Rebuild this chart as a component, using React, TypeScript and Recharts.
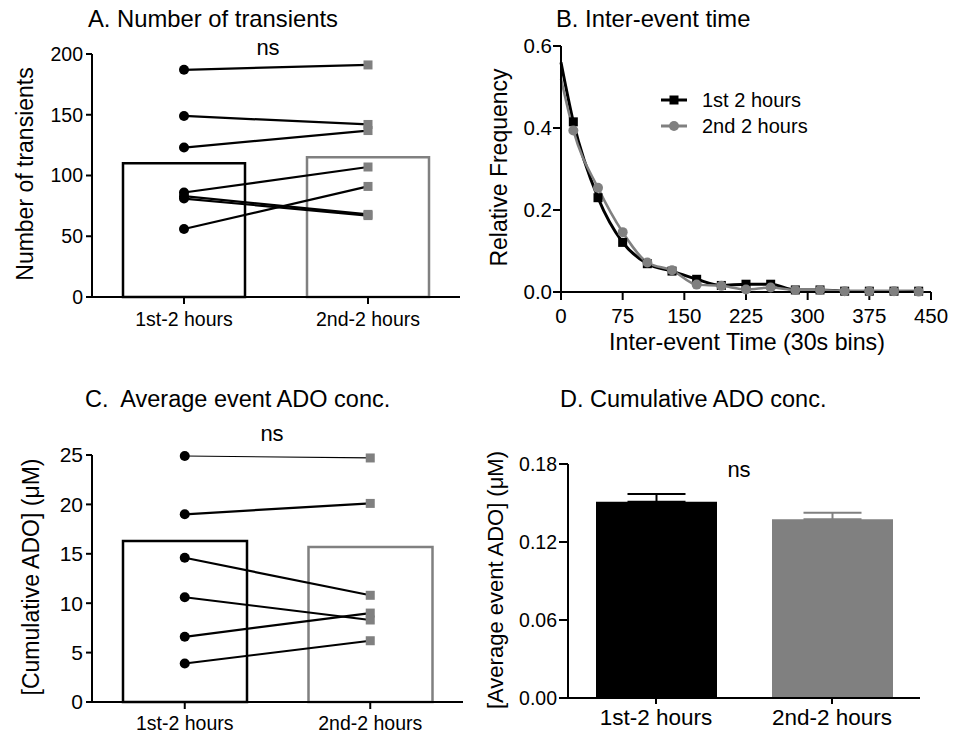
import React from 'react';
import { Bar, Cell, ComposedChart, ErrorBar, Legend, Line, XAxis, YAxis } from 'recharts';

const FONT = '"Liberation Sans", Arial, Helvetica, sans-serif';
const GRAY = '#808080';

// shared categories
const groups = ['1st-2 hours', '2nd-2 hours'];

// A. Number of transients (paired, 7 slices)
const transMean = [110, 115];
const transFirst = [187, 149, 123, 86, 83, 81, 56];
const transSecond = [191, 142, 137, 107, 68, 67, 91];

// B. Inter-event time histogram
const binTimes = [0, 15, 45, 75, 105, 135, 165, 195, 225, 255, 285, 315, 345, 375, 405, 435];
const freqFirst = [0.56, 0.415, 0.23, 0.121, 0.069, 0.051, 0.031, 0.016, 0.019, 0.019, 0.005, 0.005, 0.002, 0.002, 0.002, 0.002];
const freqSecond = [0.52, 0.394, 0.254, 0.146, 0.072, 0.053, 0.018, 0.015, 0.006, 0.011, 0.005, 0.005, 0.002, 0.002, 0.002, 0.001];
const seriesNames = ['1st 2 hours', '2nd 2 hours'];

// C. cumulative ADO (paired, 6 slices)
const cumMean = [16.3, 15.7];
const cumFirst = [24.9, 19.0, 14.6, 10.6, 6.6, 3.9];
const cumSecond = [24.7, 20.1, 10.8, 8.3, 9.0, 6.2];
const cumWidths = [1.2, 2.2, 2.2, 2.2, 2.2, 2.2];

// D. average event ADO, mean + SEM
const avgMean = [0.151, 0.1375];
const avgSem = [0.006, 0.005];

const pairedRows = (mean: number[], first: number[], second: number[]) =>
  groups.map((g, i) => {
    const row: any = { group: g, mean: mean[i] };
    first.forEach((v, k) => {
      row['s' + k] = i === 0 ? v : second[k];
    });
    return row;
  });

const transData = pairedRows(transMean, transFirst, transSecond);
const cumData = pairedRows(cumMean, cumFirst, cumSecond);
const freqData = binTimes.map((t, i) => ({ t, first: freqFirst[i], second: freqSecond[i] }));
const avgData = groups.map((g, i) => ({
  group: g,
  mean: avgMean[i],
  errBlack: i === 0 ? [0, avgSem[i]] : undefined,
  errGray: i === 1 ? [0, avgSem[i]] : undefined,
}));

const axisLine = { stroke: '#000', strokeWidth: 2 };
const tickText = (size: number) => ({ fill: '#000', fontSize: size, fontFamily: FONT });

const pairDot = (props: any) => {
  const { cx, cy, index } = props;
  if (index === 0) return <circle key={'c' + index} cx={cx} cy={cy} r={5} fill="#000" />;
  return <rect key={'r' + index} x={cx - 4.5} y={cy - 4.5} width={9} height={9} fill={GRAY} />;
};

const squareDot = (props: any) => {
  const { cx, cy, index } = props;
  if (index === 0) return <g key={'q' + index} />;
  return <rect key={'q' + index} x={cx - 4.5} y={cy - 4.5} width={9} height={9} fill="#000" />;
};

const circleDot = (props: any) => {
  const { cx, cy, index } = props;
  if (index === 0) return <g key={'o' + index} />;
  return <circle key={'o' + index} cx={cx} cy={cy} r={5} fill={GRAY} />;
};

const FreqLegend = ({ payload }: any) => (
  <div style={{ fontFamily: FONT, fontSize: 20, color: '#000' }}>
    {(payload || []).map((p: any, i: number) => (
      <div key={p.value} style={{ display: 'flex', alignItems: 'center', height: 26 }}>
        <svg width={30} height={14}>
          <line x1={2} y1={7} x2={28} y2={7} stroke={p.color} strokeWidth={3} />
          {i === 0 ? (
            <rect x={10.5} y={2.5} width={9} height={9} fill={p.color} />
          ) : (
            <circle cx={15} cy={7} r={5} fill={p.color} />
          )}
        </svg>
        <span style={{ marginLeft: 13 }}>{p.value}</span>
      </div>
    ))}
  </div>
);

function PairedPanel({ data, n, widths, yMax, yTicks, barSize, tickSize }: any) {
  const isA = data === transData;
  return (
    <ComposedChart width={480} height={isA ? 345 : 364} data={data}
      margin={isA ? { top: 54, right: 20, bottom: 18, left: 32 } : { top: 85, right: 17, bottom: 2, left: 32 }}>
      <XAxis dataKey="group" axisLine={axisLine} tickLine={axisLine} tickSize={7}
        tickMargin={isA ? 8 : 7} tick={tickText(19.5)} />
      <YAxis width={60} domain={[0, yMax]} ticks={yTicks} axisLine={axisLine} tickLine={axisLine}
        tickSize={6} tickMargin={3} tick={tickText(tickSize)} />
      <Bar dataKey="mean" barSize={barSize} fill="#fff" strokeWidth={2.5} isAnimationActive={false}>
        <Cell stroke="#000" />
        <Cell stroke={GRAY} />
      </Bar>
      {Array.from({ length: n }, (_, k) => (
        <Line key={k} dataKey={'s' + k} stroke="#000" strokeWidth={widths ? widths[k] : 2.2}
          dot={pairDot} activeDot={false} isAnimationActive={false} />
      ))}
    </ComposedChart>
  );
}

export default function App() {
  return (
    <div style={{ position: 'absolute', left: 0, top: 0, width: 961, height: 734, background: '#fff', fontFamily: FONT }}>
      {/* A */}
      <div style={{ position: 'absolute', left: 0, top: 0 }}>
        <PairedPanel data={transData} n={transFirst.length} yMax={200} yTicks={[0, 50, 100, 150, 200]}
          barSize={122} tickSize={19.5} />
      </div>

      {/* B */}
      <div style={{ position: 'absolute', left: 470, top: 0 }}>
        <ComposedChart width={491} height={360} data={freqData} margin={{ top: 46, right: 30, bottom: 38, left: 31 }}>
          <XAxis dataKey="t" type="number" domain={[0, 450]} ticks={[0, 75, 150, 225, 300, 375, 450]}
            axisLine={axisLine} tickLine={axisLine} tickSize={8} tickMargin={8} tick={tickText(20.5)} />
          <YAxis width={60} domain={[0, 0.6]} ticks={[0, 0.2, 0.4, 0.6]} tickFormatter={(v: number) => v.toFixed(1)}
            axisLine={axisLine} tickLine={axisLine} tickSize={8} tickMargin={1} tick={tickText(20.5)} />
          <Legend layout="vertical" align="center" verticalAlign="middle" content={<FreqLegend />}
            wrapperStyle={{ left: 189, top: 87, width: 'auto' }} />
          <Line type="monotone" dataKey="first" name={seriesNames[0]} stroke="#000" strokeWidth={3}
            dot={squareDot} activeDot={false} isAnimationActive={false} />
          <Line type="monotone" dataKey="second" name={seriesNames[1]} stroke={GRAY} strokeWidth={2.5}
            dot={circleDot} activeDot={false} isAnimationActive={false} />
        </ComposedChart>
      </div>

      {/* C */}
      <div style={{ position: 'absolute', left: 0, top: 370 }}>
        <PairedPanel data={cumData} n={cumFirst.length} widths={cumWidths} yMax={25}
          yTicks={[0, 5, 10, 15, 20, 25]} barSize={124} tickSize={21} />
      </div>

      {/* D */}
      <div style={{ position: 'absolute', left: 470, top: 370 }}>
        <ComposedChart width={491} height={364} data={avgData} margin={{ top: 94, right: 41, bottom: 6, left: 38 }}>
          <XAxis dataKey="group" axisLine={axisLine} tickLine={axisLine} tickSize={6} tickMargin={5} tick={tickText(22.5)} />
          <YAxis width={60} domain={[0, 0.18]} ticks={[0, 0.06, 0.12, 0.18]} tickFormatter={(v: number) => v.toFixed(2)}
            axisLine={axisLine} tickLine={axisLine} tickSize={9} tickMargin={2} tick={tickText(19.5)} />
          <Bar dataKey="mean" barSize={121} isAnimationActive={false}>
            <Cell fill="#000" />
            <Cell fill={GRAY} />
            <ErrorBar dataKey="errBlack" width={29} stroke="#000" strokeWidth={2} />
            <ErrorBar dataKey="errGray" width={29} stroke={GRAY} strokeWidth={2} />
          </Bar>
        </ComposedChart>
      </div>

      {/* titles, axis titles, significance marks */}
      <svg width={961} height={734} style={{ position: 'absolute', left: 0, top: 0, pointerEvents: 'none' }}
        fontFamily={FONT} fill="#000">
        <text x={88} y={26.5} fontSize={23.8}>A. Number of transients</text>
        <text x={556} y={27} fontSize={23.8}>B. Inter-event time</text>
        <text x={85} y={406.5} fontSize={23.5} style={{ whiteSpace: 'pre' }}>C.  Average event ADO conc.</text>
        <text x={560} y={406.5} fontSize={23.5}>D. Cumulative ADO conc.</text>

        <text x={268} y={55} fontSize={22} textAnchor="middle">ns</text>
        <text x={272} y={441} fontSize={22} textAnchor="middle">ns</text>
        <text x={739} y={477} fontSize={22} textAnchor="middle">ns</text>

        <text x={747} y={350} fontSize={23.2} textAnchor="middle">Inter-event Time (30s bins)</text>

        <text x={33} y={174} fontSize={23} textAnchor="middle" transform="rotate(-90 33 174)">Number of transients</text>
        <text x={506.5} y={167.5} fontSize={23} textAnchor="middle" transform="rotate(-90 506.5 167.5)">Relative Frequency</text>
        <text x={38.5} y={577} fontSize={23} textAnchor="middle" transform="rotate(-90 38.5 577)">[Cumulative ADO] (μM)</text>
        <text x={503} y={580} fontSize={22} textAnchor="middle" transform="rotate(-90 503 580)">[Average event ADO] (μM)</text>
      </svg>
    </div>
  );
}
